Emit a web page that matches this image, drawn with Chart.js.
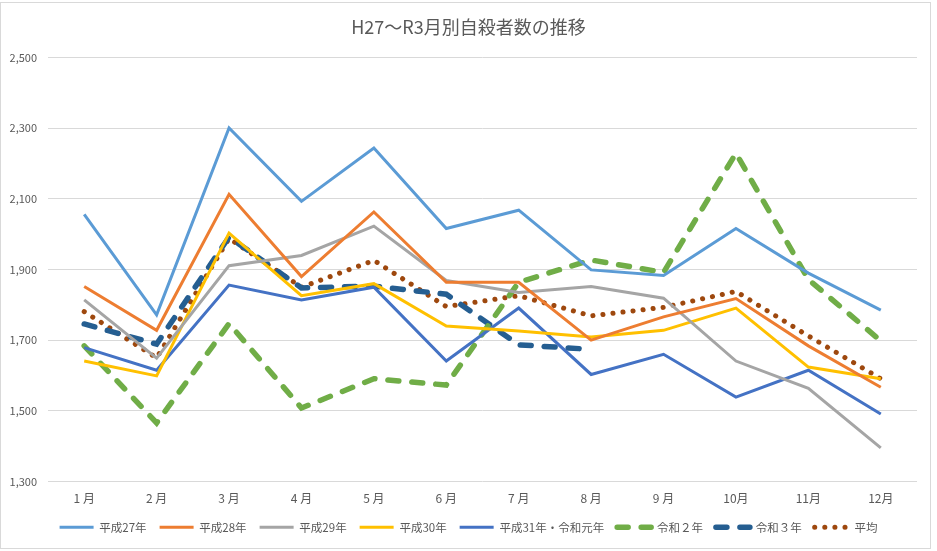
<!DOCTYPE html>
<html>
<head>
<meta charset="utf-8">
<script src="https://cdn.jsdelivr.net/npm/chart.js@4"></script>
<style>
    body { margin: 0; background: #ffffff; }
    #wrap { width: 937px; height: 551px; }
</style>
</head>
<body>
<div id="wrap"><canvas id="suicide"></canvas></div>
<script>
// 月ラベル
let months = ['1 月', '2 月', '3 月', '4 月', '5 月', '6 月', '7 月', '8 月', '9 月', '10月', '11月', '12月'];

// 年別データ
let h27 = [2056, 1772, 2301, 2093, 2244, 2016, 2068, 1899, 1883, 2016, 1890, 1785];
let h28 = [1852, 1728, 2113, 1880, 2063, 1864, 1864, 1700, 1766, 1818, 1684, 1567];
let h29 = [1814, 1649, 1911, 1940, 2023, 1869, 1835, 1852, 1819, 1641, 1564, 1395];
let h30 = [1641, 1599, 2003, 1826, 1860, 1740, 1726, 1709, 1728, 1791, 1624, 1591];
let h31 = [1679, 1615, 1856, 1814, 1850, 1641, 1791, 1603, 1660, 1539, 1615, 1491];
let r2 = [1684, 1466, 1747, 1508, 1591, 1573, 1864, 1927, 1892, 2229, 1872, 1698];
let r3 = [1746, 1689, 1992, 1848, 1853, 1830, 1687, 1674];
let avg = [1781, 1650, 1988, 1850, 1926, 1795, 1826, 1769, 1793, 1838, 1712, 1591];

// y軸の目盛
let yMin = 1300;
let yMax = 2500;
let yStep = 200;

const textColor = '#595959';
const fontFamily = "'Noto Sans CJK JP', 'Noto Sans', sans-serif";

// 外枠を描き、タイトルと凡例を全体の中央へ寄せるプラグイン
const frame = {
    id: 'frame',
    afterLayout(chart) {
        [chart.titleBlock, chart.legend].forEach((box) => {
            if (box) {
                box.left += 10;
                box.right += 10;
            }
        });
    },
    afterDraw(chart) {
        const ctx = chart.ctx;
        ctx.save();
        ctx.strokeStyle = '#d9d9d9';
        ctx.lineWidth = 1;
        ctx.strokeRect(0.5, 2.5, chart.width - 7, chart.height - 5);
        ctx.restore();
    }
};

function solid(label, data, color) {
    return {
        label: label,
        data: data,
        borderColor: color,
        backgroundColor: color,
        borderWidth: 3,
        pointRadius: 0,
        tension: 0
    };
}

function dashed(label, data, color, dash, width) {
    return {
        label: label,
        data: data,
        borderColor: color,
        backgroundColor: color,
        borderWidth: width,
        borderDash: dash,
        borderCapStyle: 'round',
        pointRadius: 0,
        tension: 0
    };
}

// 凡例の線を破線・点線に合わせる
function legendLabels(chart) {
    let items = Chart.defaults.plugins.legend.labels.generateLabels(chart);
    items.forEach((item) => {
        let ds = chart.data.datasets[item.datasetIndex];
        item.lineDash = ds.borderDash || [];
        item.lineCap = ds.borderCapStyle || 'butt';
        item.lineWidth = ds.borderWidth;
        item.strokeStyle = ds.borderColor;
    });
    return items;
}

new Chart(document.getElementById('suicide'), {
    type: 'line',
    data: {
        labels: months,
        datasets: [
            solid('平成27年', h27, '#5B9BD5'),
            solid('平成28年', h28, '#ED7D31'),
            solid('平成29年', h29, '#A5A5A5'),
            solid('平成30年', h30, '#FFC000'),
            solid('平成31年・令和元年', h31, '#4472C4'),
            dashed('令和２年', r2, '#70AD47', [11, 13], 5.5),
            dashed('令和３年', r3, '#255E91', [11, 13], 5.5),
            dashed('平均', avg, '#9E480E', [0.1, 10], 5)
        ]
    },
    options: {
        responsive: true,
        maintainAspectRatio: false,
        animation: false,
        layout: {
            padding: { left: 0, right: 20, bottom: 8 }
        },
        plugins: {
            title: {
                display: true,
                text: 'H27～R3月別自殺者数の推移',
                color: textColor,
                font: { family: fontFamily, size: 18, weight: 'normal' },
                padding: { top: 16, bottom: 20 }
            },
            legend: {
                position: 'bottom',
                labels: {
                    color: textColor,
                    font: { family: fontFamily, size: 11.5 },
                    usePointStyle: true,
                    pointStyle: 'line',
                    pointStyleWidth: 34,
                    padding: 13,
                    generateLabels: legendLabels
                }
            },
            tooltip: { enabled: false }
        },
        scales: {
            x: {
                offset: true,
                afterFit: (scale) => { scale.height = 27; },
                grid: { display: false, drawTicks: false },
                border: { display: false },
                ticks: {
                    color: textColor,
                    font: { family: fontFamily, size: 12 },
                    padding: 10,
                    maxRotation: 0
                }
            },
            y: {
                min: yMin,
                max: yMax,
                afterFit: (scale) => { scale.width = 48; },
                grid: { color: '#d9d9d9', drawTicks: false },
                border: { display: false },
                ticks: {
                    stepSize: yStep,
                    color: textColor,
                    font: { family: fontFamily, size: 11 },
                    padding: 11
                }
            }
        }
    },
    plugins: [frame]
});
</script>
</body>
</html>
